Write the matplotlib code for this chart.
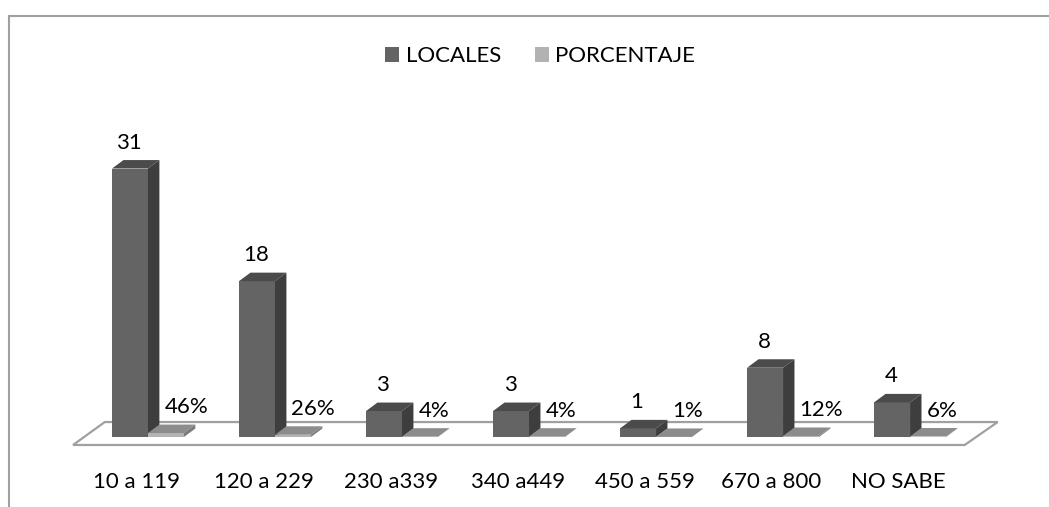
import matplotlib
matplotlib.use("Agg")
import matplotlib.pyplot as plt
from matplotlib.patches import Polygon, Patch

CATEGORIAS = ["10 a 119", "120 a 229", "230 a339", "340 a449",
              "450 a 559", "670 a 800", "NO SABE"]
LOCALES = [31, 18, 3, 3, 1, 8, 4]
PORCENTAJE = [0.46, 0.26, 0.04, 0.04, 0.01, 0.12, 0.06]

plt.rcParams['font.family'] = ['Lato', 'DejaVu Sans']
FS = 16

# bar geometry in data units (category index on x, value on y)
W = 0.283      # front face width
DX = 0.09      # depth offset in x
DY = 0.98      # depth offset in value units


def box(ax, x, v, front, top, side):
    ax.add_patch(Polygon([(x, 0), (x + W, 0), (x + W, v), (x, v)],
                         closed=True, facecolor=front, edgecolor='none', zorder=3))
    ax.add_patch(Polygon([(x, v), (x + W, v), (x + W + DX, v + DY), (x + DX, v + DY)],
                         closed=True, facecolor=top, edgecolor='none', zorder=3))
    ax.add_patch(Polygon([(x + W, 0), (x + W + DX, DY), (x + W + DX, v + DY), (x + W, v)],
                         closed=True, facecolor=side, edgecolor='none', zorder=3))


fig = plt.figure(figsize=(10.49, 5.07), dpi=100)
ax = fig.add_axes([0, 0, 1, 1])
ax.set_xlim(-1.165, 7.094)
ax.set_ylim(-8.08, 50.46)
ax.axis('off')

# floor
n = len(CATEGORIAS)
ax.add_patch(Polygon([(-0.59, -0.92), (n - 0.57, -0.92), (n - 0.31, 1.73), (-0.34, 1.73)],
                     closed=True, facecolor='white', edgecolor='#a0a0a0',
                     linewidth=1.6, zorder=1))

for i in range(n):
    box(ax, i - W, LOCALES[i], '#646464', '#4b4b4b', '#3e3e3e')
    box(ax, i, PORCENTAJE[i], '#b4b4b4', '#8c8c8c', '#7a7a7a')
    ax.text(i - 0.15, LOCALES[i] + 2.3, str(LOCALES[i]), ha='center',
            va='baseline', fontsize=FS, color='black', zorder=4)
    ax.text(i + 0.13, PORCENTAJE[i] + 2.3, "{:.0f}%".format(PORCENTAJE[i] * 100),
            ha='left', va='baseline', fontsize=FS, color='black', zorder=4)
    ax.text(i - 0.09, -5.9, CATEGORIAS[i], ha='center', va='baseline',
            fontsize=FS, color='black')

# chart border (top and left edges visible)
fig.add_artist(plt.Line2D([9 / 1049, 1], [1 - 16 / 507, 1 - 16 / 507],
                          transform=fig.transFigure, color='#a0a0a0', linewidth=1.5))
fig.add_artist(plt.Line2D([9 / 1049, 9 / 1049], [0, 1 - 16 / 507],
                          transform=fig.transFigure, color='#a0a0a0', linewidth=1.5))

handles = [Patch(facecolor='#646464', label='LOCALES'),
           Patch(facecolor='#b2b2b2', label='PORCENTAJE')]
fig.legend(handles=handles, loc='center', bbox_to_anchor=(0.515, 0.889), ncol=2,
           frameon=False, fontsize=FS, handlelength=0.64, handleheight=0.64,
           handletextpad=0.3, columnspacing=1.5)

fig.savefig("out.png", dpi=100, facecolor='white')
